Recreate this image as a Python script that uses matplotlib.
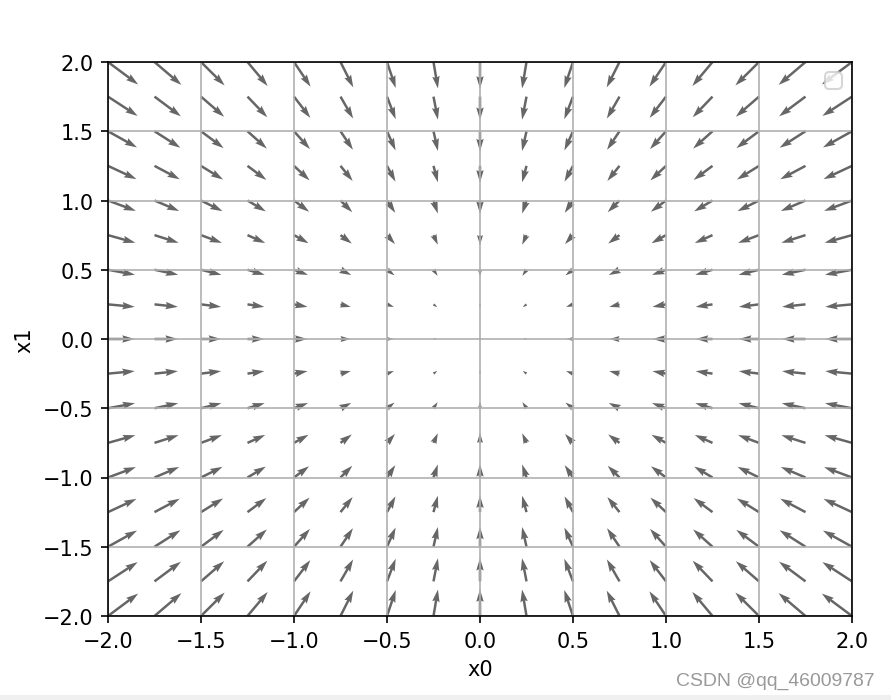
import matplotlib
matplotlib.use("Agg")
import matplotlib.pyplot as plt
import numpy as np
from matplotlib.patches import Rectangle

# grid points (x0 and x1 share the same ticks)
x0 = [-2.0, -1.75, -1.5, -1.25, -1.0, -0.75, -0.5, -0.25, 0.0,
      0.25, 0.5, 0.75, 1.0, 1.25, 1.5, 1.75, 2.0, 2.25]
x1 = [-2.0, -1.75, -1.5, -1.25, -1.0, -0.75, -0.5, -0.25, 0.0,
      0.25, 0.5, 0.75, 1.0, 1.25, 1.5, 1.75, 2.0, 2.25]

# negative gradient components, read per column / per row
u_col = [4.0, 3.5, 3.0, 2.5, 2.0, 1.5, 1.0, 0.5, 0.0,
         -0.5, -1.0, -1.5, -2.0, -2.5, -3.0, -3.5, -4.0, -4.5]
v_row = [4.0, 3.5, 3.0, 2.5, 2.0, 1.5, 1.0, 0.5, 0.0,
         -0.5, -1.0, -1.5, -2.0, -2.5, -3.0, -3.5, -4.0, -4.5]

X, Y = np.meshgrid(x0, x1)
U, V = np.meshgrid(u_col, v_row)
X = X.flatten()
Y = Y.flatten()
U = U.flatten()
V = V.flatten()

fig = plt.figure(figsize=(891 / 150, 701 / 150), dpi=150)
ax = fig.add_axes([108 / 891, (701 - 617) / 701, 744 / 891, 554 / 701])

ax.quiver(X, Y, U, V, angles="xy", color="#666666")
ax.set_xlim([-2, 2])
ax.set_ylim([-2, 2])
ax.set_xlabel('x0')
ax.set_ylabel('x1')
ax.grid()
ax.legend()

# page footer bits from the screenshot
fig.patches.append(Rectangle((0, 0), 1, 5 / 701, transform=fig.transFigure,
                             facecolor="#f0f0f0", edgecolor="none"))
fig.text(875 / 891, (701 - 681) / 701, "CSDN @qq_46009787", ha="right", va="center",
         fontsize=9.3, color="#999999", family="Liberation Sans")

fig.savefig("out.png", dpi=150)
